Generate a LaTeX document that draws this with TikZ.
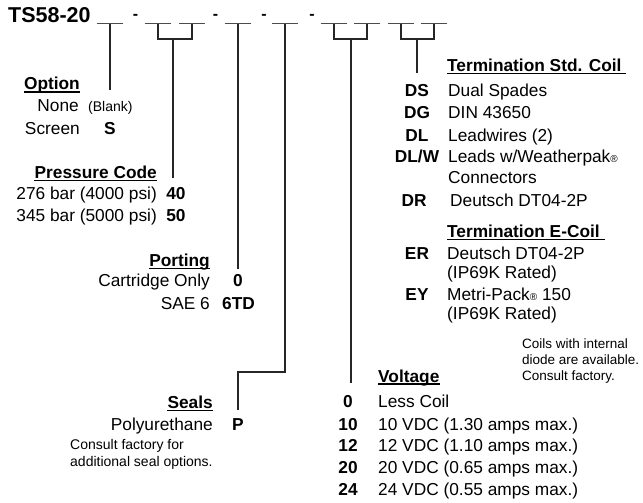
\documentclass[tikz,border=0pt]{standalone}
\usepackage{fontspec}
\setmainfont{Liberation Sans}
\begin{document}
\begin{tikzpicture}[x=1pt,y=-1pt,
  txt/.style={inner sep=0pt, font=\fontsize{17.3}{20}\selectfont},
  hdr/.style={inner sep=0pt, font=\fontsize{17.3}{20}\selectfont\bfseries},
  code/.style={hdr, anchor=base},
  small/.style={inner sep=0pt, font=\fontsize{14}{16}\selectfont},
  note/.style={inner sep=0pt, anchor=base west, font=\fontsize{13.5}{16}\selectfont},
  dashmark/.style={inner sep=0pt, anchor=base, font=\fontsize{16}{16}\selectfont\bfseries},
  conn/.style={line width=1.2pt, black!85},
  blank/.style={line width=1pt, black!70},
  uline/.style={line width=1.1pt, black}
]
\useasboundingbox (0,0) rectangle (643,503);

% title and blanks
\node[anchor=base west, inner sep=0pt, font=\fontsize{21.5}{24}\selectfont\bfseries] (title) at (8,23) {TS58-20};
\foreach \n/\x in {1/110,2/158,3/192,4/238,5/285,6/334,7/367,8/401,9/434}{
  \coordinate (b\n) at (\x,24);
  \draw[blank] ([xshift=-13pt]b\n) -- ([xshift=13pt]b\n);
}
\node[dashmark] (d1) at (135.5,19.5) {-};
\node[dashmark] (d2) at (215.5,19.5) {-};
\node[dashmark] (d3) at (264,19.5) {-};
\node[dashmark] (d4) at (312,19.5) {-};

% Option
\node[hdr, anchor=base east] (optH) at (80,90) {Option};
\draw[uline] ([yshift=-2pt]optH.base west) -- ([yshift=-2pt]optH.base east);
\node[txt, anchor=base east] (optNone) at (79,111.7) {None};
\node[small, anchor=base west] (optBlank) at (88,111.7) {(Blank)};
\node[txt, anchor=base east] (optScreen) at (80,134) {Screen};
\node[code] (cS) at (110,134) {S};
\coordinate (optE) at (110,90);
\draw[conn] (b1) -- (optE);

% Pressure code
\node[hdr, anchor=base east] (prH) at (157,178.3) {Pressure Code};
\draw[uline] ([yshift=-2pt]prH.base west) -- ([yshift=-2pt]prH.base east);
\node[txt, anchor=base east] (pr40) at (157,199.3) {276 bar (4000 psi)};
\node[code] (c40) at (176,199.3) {40};
\node[txt, anchor=base east] (pr50) at (157,221.7) {345 bar (5000 psi)};
\node[code] (c50) at (176,221.7) {50};
\coordinate (prJ) at (173,39);
\coordinate (prE) at (173,178);
\draw[conn] (b2) |- (prJ) -| (b3);
\draw[conn] (prJ) -- (prE);

% Porting
\node[hdr, anchor=base east] (poH) at (210,266.7) {Porting};
\draw[uline] ([yshift=-2pt]poH.base west) -- ([yshift=-2pt]poH.base east);
\node[txt, anchor=base east] (poCart) at (210,286.7) {Cartridge Only};
\node[code] (c0) at (238,286.7) {0};
\node[txt, anchor=base east] (poSAE) at (210,309) {SAE 6};
\node[code] (c6TD) at (238.5,309) {6TD};
\coordinate (poE) at (238,269);
\draw[conn] (b4) -- (poE);

% Seals
\node[hdr, anchor=base east] (seH) at (213,408.3) {Seals};
\draw[uline] ([yshift=-2pt]seH.base west) -- ([yshift=-2pt]seH.base east);
\node[txt, anchor=base east] (sePoly) at (213,430) {Polyurethane};
\node[code] (cP) at (238,430) {P};
\node[small, anchor=base west] (seN1) at (70,449) {Consult factory for};
\node[small, anchor=base west] (seN2) at (70,466) {additional seal options.};
\coordinate (seJ) at (238,372);
\coordinate (seE) at (238,410);
\draw[conn] (b5) |- (seJ) -- (seE);

% Voltage
\node[hdr, anchor=base west] (voH) at (378,382) {Voltage};
\draw[uline] ([yshift=-2pt]voH.base west) -- ([yshift=-2pt]voH.base east);
\foreach \nm/\c/\y/\d in {v0/0/407.3/Less Coil,
    v10/10/430/10 VDC (1.30 amps max.),
    v12/12/451.7/12 VDC (1.10 amps max.),
    v20/20/473.3/20 VDC (0.65 amps max.),
    v24/24/495/24 VDC (0.55 amps max.)}{
  \node[code] (\nm c) at (348,\y) {\c};
  \node[txt, anchor=base west] (\nm d) at (378,\y) {\d};
}
\coordinate (voJ) at (351,39);
\coordinate (voE) at (351,383);
\draw[conn] (b6) |- (voJ) -| (b7);
\draw[conn] (voJ) -- (voE);

% Termination Std. Coil
\node[hdr, anchor=base west] (tsH) at (447,71.7) {Termination Std. Coil};
\draw[uline] ([yshift=-2pt]tsH.base west) -- ([yshift=-2pt,xshift=4pt]tsH.base east);
\node[code] (cDS) at (417,96) {DS};
\node[txt, anchor=base west] (tDS) at (448,96) {Dual Spades};
\node[code] (cDG) at (417,118.3) {DG};
\node[txt, anchor=base west] (tDG) at (448,118.3) {DIN 43650};
\node[code] (cDL) at (417,141.7) {DL};
\node[txt, anchor=base west] (tDL) at (448,141.7) {Leadwires (2)};
\node[code] (cDLW) at (417,162.7) {DL/W};
\node[txt, anchor=base west] (tDLW) at (448,162.7) {Leads w/Weatherpak{\fontsize{10}{10}\selectfont ®}};
\node[txt, anchor=base west] (tDLW2) at (448,183.3) {Connectors};
\node[code] (cDR) at (414,206) {DR};
\node[txt, anchor=base west] (tDR) at (450,206) {Deutsch DT04-2P};
\coordinate (tsJ) at (417,39);
\coordinate (tsE) at (417,73);
\draw[conn] (b8) |- (tsJ) -| (b9);
\draw[conn] (tsJ) -- (tsE);

% Termination E-Coil
\node[hdr, anchor=base west] (teH) at (447,237.3) {Termination E-Coil};
\draw[uline] ([yshift=-2pt]teH.base west) -- ([yshift=-2pt,xshift=5pt]teH.base east);
\node[code] (cER) at (417,259.3) {ER};
\node[txt, anchor=base west] (tER) at (447,259.3) {Deutsch DT04-2P};
\node[txt, anchor=base west] (tER2) at (447,278.5) {(IP69K Rated)};
\node[code] (cEY) at (417,300.5) {EY};
\node[txt, anchor=base west] (tEY) at (447,300.5) {Metri-Pack{\fontsize{10}{10}\selectfont ®} 150};
\node[txt, anchor=base west] (tEY2) at (447,319.5) {(IP69K Rated)};

% Coil note
\node[note] (cn1) at (522,348.3) {Coils with internal};
\node[note] (cn2) at (522,364) {diode are available.};
\node[note] (cn3) at (522,380) {Consult factory.};
\end{tikzpicture}
\end{document}
